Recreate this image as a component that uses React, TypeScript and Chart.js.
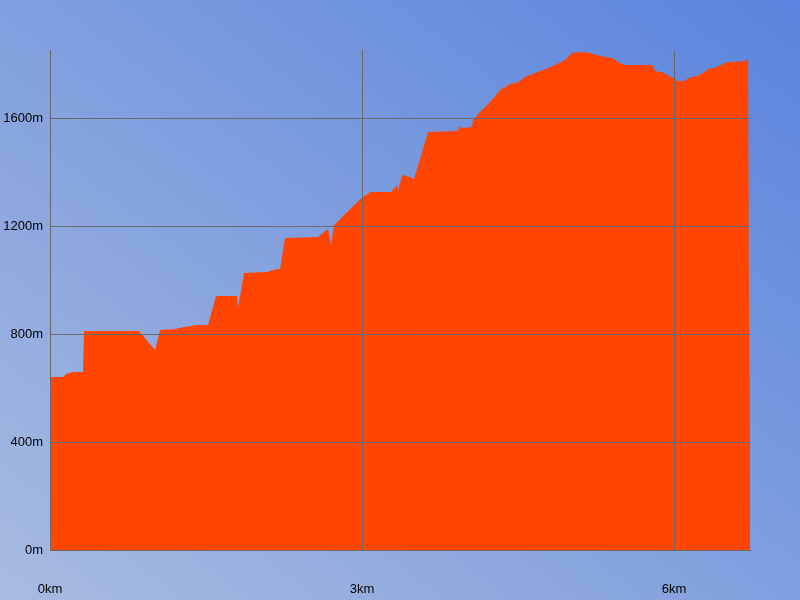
import React, { useEffect, useRef } from "react";
import { Chart, registerables } from "chart.js";

Chart.register(...registerables);

const DIST_KM = [
  0, 0.125, 0.135, 0.154, 0.183, 0.212, 0.317, 0.322, 0.327, 0.856, 1.01, 1.058, 1.202, 1.288, 1.356, 1.404,
  1.519, 1.596, 1.798, 1.808, 1.865, 2.087, 2.183, 2.212, 2.26, 2.577, 2.673, 2.702, 2.731, 3.0, 3.058, 3.077,
  3.279, 3.337, 3.346, 3.385, 3.462, 3.5, 3.635, 3.913, 3.942, 3.971, 4.058, 4.067, 4.135, 4.183, 4.231, 4.279,
  4.327, 4.375, 4.423, 4.5, 4.567, 4.663, 4.76, 4.856, 4.952, 5.019, 5.077, 5.144, 5.192, 5.26, 5.337, 5.404,
  5.481, 5.529, 5.788, 5.817, 5.885, 5.933, 5.99, 6.038, 6.106, 6.135, 6.221, 6.279, 6.327, 6.413, 6.471, 6.51,
  6.683, 6.712, 6.72, 6.73,
];

const ELEV_M = [
  641, 641, 644, 652, 656, 659, 659, 733, 811, 811, 741, 815, 819, 826, 830, 833,
  833, 941, 941, 896, 1026, 1030, 1041, 1041, 1156, 1159, 1189, 1130, 1204, 1307, 1319, 1326,
  1326, 1352, 1330, 1389, 1381, 1374, 1548, 1552, 1567, 1563, 1567, 1593, 1622, 1641, 1659, 1681,
  1704, 1715, 1726, 1733, 1752, 1767, 1781, 1796, 1815, 1841, 1844, 1844, 1841, 1833, 1826, 1822,
  1804, 1796, 1796, 1774, 1770, 1759, 1748, 1737, 1737, 1748, 1756, 1767, 1781, 1789, 1800, 1807,
  1811, 1819, 900, 450,
];

const X_TICKS = [0, 3, 6];
const Y_TICKS = [0, 400, 800, 1200, 1600];
const X_MAX = 6.73;
const Y_MAX = 1852;

const GRID = "#6a6a6a";
const FILL = "#FF4500";

export default function App() {
  const ref = useRef<HTMLCanvasElement | null>(null);

  useEffect(() => {
    document.body.style.margin = "0";
    const canvas = ref.current;
    if (!canvas) return;
    const data = DIST_KM.map((x, i) => ({ x, y: ELEV_M[i] }));
    const font = { family: "'Liberation Sans', Arial, sans-serif", size: 13 };
    const chart = new Chart(canvas, {
      type: "line",
      data: {
        datasets: [
          {
            data,
            fill: "origin",
            backgroundColor: FILL,
            borderWidth: 0,
            borderColor: FILL,
            pointRadius: 0,
            tension: 0,
          },
        ],
      },
      options: {
        responsive: false,
        maintainAspectRatio: false,
        animation: false,
        layout: { padding: { top: 50, right: 50, left: 0, bottom: 0 } },
        plugins: { legend: { display: false }, tooltip: { enabled: false } },
        scales: {
          x: {
            type: "linear",
            min: 0,
            max: X_MAX,
            afterFit: (s: any) => {
              s.height = 50;
            },
            afterBuildTicks: (s: any) => {
              s.ticks = X_TICKS.map((v) => ({ value: v }));
            },
            grid: { color: GRID, lineWidth: 1, drawTicks: false, z: 1 },
            border: { display: true, color: GRID, width: 1, z: 1 },
            ticks: {
              color: "#000",
              font,
              padding: 32,
              maxRotation: 0,
              autoSkip: false,
              callback: (v: any) => `${v}km`,
            },
          },
          y: {
            type: "linear",
            min: 0,
            max: Y_MAX,
            afterFit: (s: any) => {
              s.width = 50;
            },
            afterBuildTicks: (s: any) => {
              s.ticks = Y_TICKS.map((v) => ({ value: v }));
            },
            grid: { color: GRID, lineWidth: 1, drawTicks: false, z: 1 },
            border: { display: true, color: GRID, width: 1, z: 1 },
            ticks: {
              color: "#000",
              font,
              padding: 7,
              autoSkip: false,
              callback: (v: any) => `${v}m`,
            },
          },
        },
      },
    });
    return () => chart.destroy();
  }, []);

  return (
    <div
      style={{
        position: "fixed",
        left: 0,
        top: 0,
        width: 800,
        height: 600,
        background: "linear-gradient(to top right, #A8BBE0, #5983DD)",
      }}
    >
      <canvas ref={ref} width={800} height={600} style={{ display: "block" }} />
    </div>
  );
}
